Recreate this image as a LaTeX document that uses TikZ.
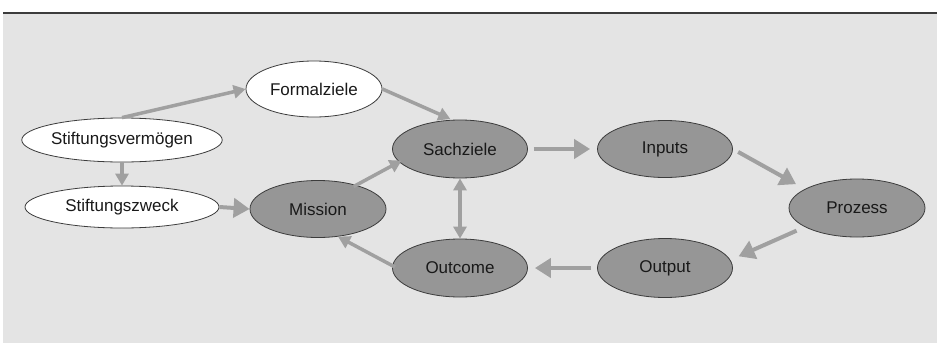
\documentclass[tikz,border=0pt]{standalone}
\usepackage{fontspec}
\setmainfont{Liberation Sans}
\usetikzlibrary{shapes.geometric,arrows.meta}
\definecolor{bggray}{HTML}{E4E4E4}
\definecolor{nodegray}{HTML}{969696}
\definecolor{arrowgray}{HTML}{A0A0A0}
\definecolor{outlinegray}{HTML}{3C3C3C}
\tikzset{
  ell/.style={ellipse, draw=outlinegray, line width=0.8pt, inner sep=0pt,
    font=\fontsize{17}{20}\selectfont, text=black!90},
  whiteell/.style={ell, fill=white},
  grayell/.style={ell, fill=nodegray},
  bigarrow/.style={draw=arrowgray, line width=4pt, -{Triangle[length=16pt,width=19pt]}},
  smallarrow/.style={draw=arrowgray, line width=3.5pt, -{Triangle[length=12pt,width=13pt]}},
  dblarrow/.style={draw=arrowgray, line width=3.5pt, {Triangle[length=12pt,width=13pt]}-{Triangle[length=12pt,width=13pt]}}
}
\begin{document}
\begin{tikzpicture}[x=1pt,y=-1pt]
\useasboundingbox (0,0) rectangle (937,343);
\fill[bggray] (3,13) rectangle (937,343);
\draw[outlinegray, line width=2pt] (3,13) -- (937,13);

\node[whiteell, minimum width=136pt, minimum height=56pt] (fz) at (314,89) {Formalziele};
\node[whiteell, minimum width=194pt, minimum height=44pt] (sv) at (122,140) {Stiftungsvermögen};
\node[whiteell, minimum width=194pt, minimum height=42pt] (sz) at (122,207) {Stiftungszweck};
\node[grayell, minimum width=136pt, minimum height=57pt] (mi) at (318,209) {Mission};
\node[grayell, minimum width=135pt, minimum height=58pt] (sa) at (460,149) {Sachziele};
\node[grayell, minimum width=135pt, minimum height=58pt] (oc) at (460,268) {Outcome};
\node[grayell, minimum width=135pt, minimum height=57pt] (in) at (665,149) {Inputs};
\node[grayell, minimum width=136pt, minimum height=58pt] (pr) at (857,208) {Prozess};
\node[grayell, minimum width=135pt, minimum height=59pt] (out) at (665,268) {Output};

\draw[smallarrow] (sv.north) -- (fz.west);
\draw[smallarrow] (sv.south) -- (sz.north);
\draw[bigarrow] (sz.east) -- (mi.west);
\draw[smallarrow, shorten >=2pt] (fz.east) -- (sa.105);
\draw[smallarrow, shorten <=-3pt, shorten >=-3pt] (mi.32) -- (sa.192);
\draw[dblarrow] (sa.south) -- (oc.north);
\draw[smallarrow, shorten <=-3pt] (oc.178) -- (mi.-54);
\draw[bigarrow, shorten <=6pt, shorten >=7pt] (sa.east) -- (in.west);
\draw[bigarrow, shorten <=6pt, shorten >=10pt] (in.east) -- (pr.160);
\draw[bigarrow, shorten <=9pt, shorten >=9pt] (pr.200) -- (out.7);
\draw[bigarrow, shorten <=6pt, shorten >=7pt] (out.west) -- (oc.east);
\end{tikzpicture}
\end{document}
